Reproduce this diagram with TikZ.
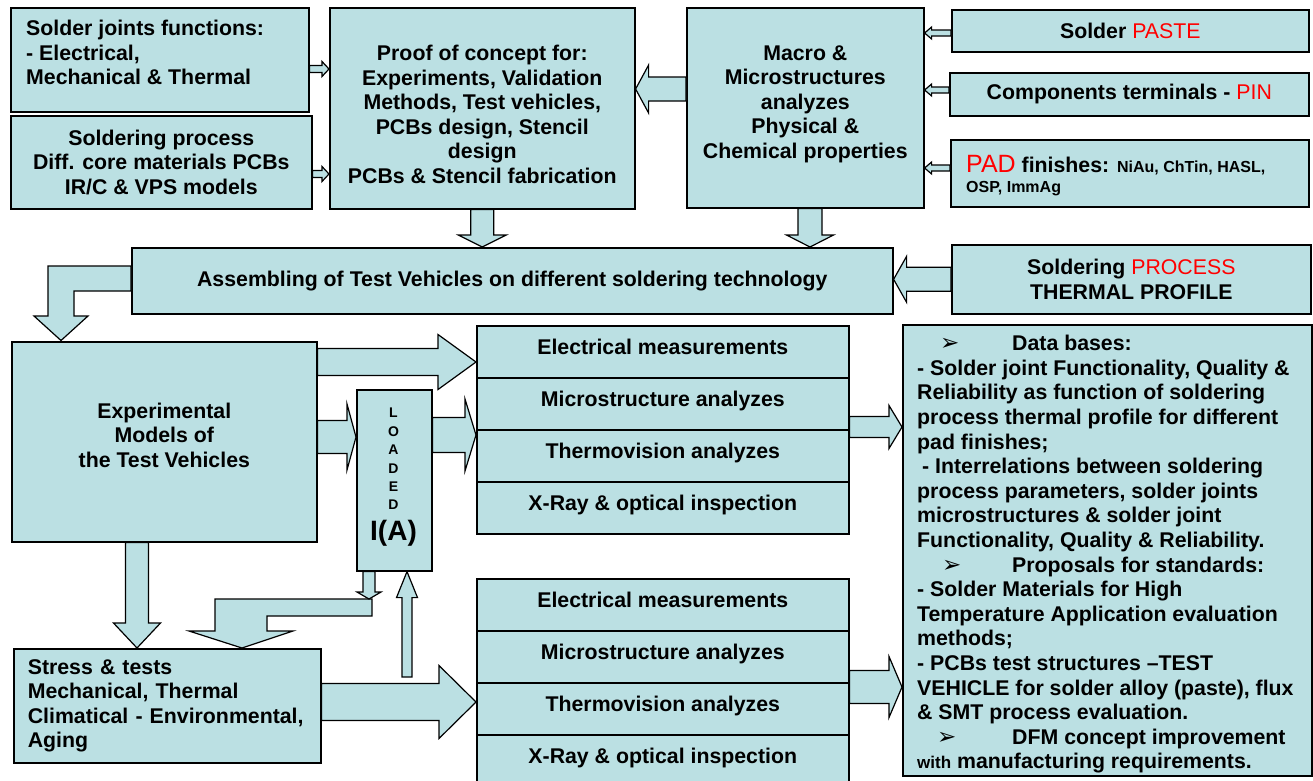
\documentclass[tikz,border=0pt]{standalone}
\usepackage{fontspec}
\setmainfont{Liberation Sans}
\newfontfamily\dingfont{DejaVu Sans}
\usetikzlibrary{calc}

\definecolor{boxblue}{RGB}{187,224,227}
\newcommand\red[1]{{\mdseries\color{red}#1}}
\newcommand\bul{{\dingfont\mdseries\fontsize{23}{23}\selectfont\smash{➢}}}

\tikzset{
  box/.style={draw, line width=1.6pt, fill=boxblue, anchor=north west, inner sep=0pt, align=center},
  big/.style={font=\bfseries\fontsize{21.3}{24.5}\selectfont},
  row/.style={box, big, minimum width=372pt, minimum height=52pt, text height=15pt, text depth=10pt},
  blk/.style={draw, line width=1.2pt, fill=boxblue, line join=miter},
}

% flat block arrow from #1 to #2: half shaft, half head, head length
\newcommand\barrow[5]{%
  \coordinate (bt) at #1;
  \coordinate (bh) at #2;
  \coordinate (bn) at ($(bh)!#5!(bt)$);
  \draw[blk] ($(bt)!#3!90:(bh)$) -- ($(bn)!#3!-90:(bt)$) -- ($(bn)!#4!-90:(bt)$) -- (bh)
    -- ($(bn)!#4!90:(bt)$) -- ($(bn)!#3!90:(bt)$) -- ($(bt)!#3!-90:(bh)$) -- cycle;
}

\begin{document}
\begin{tikzpicture}[x=1pt,y=-1pt]
\useasboundingbox (0,0) rectangle (1313,780);

% top row
\node[box, minimum width=298pt, minimum height=104pt] (sj) at (10,7) {};
\node[big, align=left, anchor=north west, inner sep=0pt] (sjt) at ($(sj.north west)+(16,13)$)
  {Solder joints functions:\\- Electrical,\\Mechanical \& Thermal};
\node[box, big, minimum width=301pt, minimum height=93pt] (sp) at (10,115)
  {Soldering process\\Diff. core materials PCBs\\IR/C \& VPS models};

\node[box, minimum width=305pt, minimum height=201pt] (pc) at (329,7) {};
\node[big, align=center] (pct) at ($(pc.center)+(0,6)$)
  {Proof of concept for:\\Experiments, Validation\\Methods, Test vehicles,\\PCBs design, Stencil\\design\\PCBs \& Stencil fabrication};

\node[box, minimum width=237pt, minimum height=200pt] (mac) at (686,7) {};
\node[big, align=center] (mact) at ($(mac.center)+(0,-3.5)$)
  {Macro \&\\Microstructures\\analyzes\\Physical \&\\Chemical properties};

\node[box, big, minimum width=357pt, minimum height=42pt] (paste) at (951,9) {Solder \red{PASTE}};
\node[box, big, minimum width=359pt, minimum height=43pt] (pin) at (949,72) {Components terminals - \red{PIN}};
\node[box, minimum width=358pt, minimum height=67pt] (pad) at (950,139) {};
\node[anchor=base west, inner sep=0pt, font=\bfseries\fontsize{21.3}{24}\selectfont] (padt) at (966,172)
  {{\fontsize{25}{26}\selectfont\red{PAD}} finishes: {\fontsize{16}{18}\selectfont NiAu, ChTin, HASL,}};
\node[anchor=base west, inner sep=0pt, font=\bfseries\fontsize{16}{18}\selectfont] (padu) at (966,192)
  {OSP, ImmAg};

% assembling row
\node[box, big, minimum width=761pt, minimum height=66pt] (asm) at (131,247)
  {Assembling of Test Vehicles on different soldering technology};
\node[box, big, minimum width=359pt, minimum height=69pt] (proc) at (951,244)
  {Soldering \red{PROCESS}\\THERMAL PROFILE};

% experiments
\node[box, minimum width=305pt, minimum height=200pt] (exp) at (11,341) {};
\node[big, align=center] (expt) at ($(exp.center)+(0,-6.7)$)
  {Experimental\\Models of\\the Test Vehicles};

\node[box, minimum width=75pt, minimum height=181pt] (ld) at (356,389) {};
\node[font=\bfseries\fontsize{14}{18.4}\selectfont, align=center, anchor=north, inner sep=0pt] (ldt)
  at (393.5,408) {L\\O\\A\\D\\E\\D};
\node[font=\bfseries\fontsize{28}{30}\selectfont, anchor=base, inner sep=0pt] (lda) at (393.5,540) {I(A)};

\foreach \t [count=\i] in {Electrical measurements, Microstructure analyzes, Thermovision analyzes, X-Ray \& optical inspection} {
  \node[row] (ta\i) at (476,{325+52*(\i-1)}) {\t};
  \node[row] (tb\i) at (476,{578+52*(\i-1)}) {\t};
}

\node[box, big, minimum width=307pt, minimum height=114pt, text width=279pt, align=left] (st) at (13,648)
  {Stress \& tests\\Mechanical, Thermal\\Climatical - Environmental,\\Aging};

% results
\node[box, minimum width=409pt, minimum height=451pt] (db) at (902,324) {};
\node[align=left, anchor=north west, inner sep=0pt, font=\bfseries\fontsize{21.3}{24.6}\selectfont] (dbt) at (917,335) {%
\hspace*{23pt}\makebox[72pt][l]{\bul}Data bases:\\
- Solder joint Functionality, Quality \&\\
Reliability as function of soldering\\
process thermal profile for different\\
pad finishes;\\
\hspace*{5pt}- Interrelations between soldering\\
process parameters, solder joints\\
microstructures \& solder joint\\
Functionality, Quality \& Reliability.\\
\hspace*{25pt}\makebox[70pt][l]{\bul}Proposals for standards:\\
- Solder Materials for High\\
Temperature Application evaluation\\
methods;\\
- PCBs test structures –TEST\\
VEHICLE for solder alloy (paste), flux\\
\& SMT process evaluation.\\
\hspace*{20pt}\makebox[75pt][l]{\bul}DFM concept improvement\\
{\fontsize{17}{24.6}\selectfont with} manufacturing requirements.};

% arrows, top part
\barrow{(sj.east |- 0,69)}{(pc.west |- 0,69)}{3.5pt}{7.5pt}{7pt}
\barrow{(sp.east |- 0,174)}{(pc.west |- 0,174)}{3.5pt}{7.5pt}{7pt}
\barrow{(mac.west |- 0,89)}{(pc.east |- 0,89)}{12pt}{24pt}{13pt}
\barrow{(paste.west |- 0,33)}{(mac.east |- 0,33)}{3pt}{6pt}{7pt}
\barrow{(pin.west |- 0,90)}{(mac.east |- 0,90)}{3pt}{6pt}{7pt}
\barrow{(pad.west |- 0,168)}{(mac.east |- 0,168)}{3pt}{6pt}{7pt}
\barrow{(pc.south)}{(asm.north -| pc.south)}{11.5pt}{24pt}{12pt}
\barrow{(mac.south -| 810,0)}{(asm.north -| 810,0)}{12pt}{23.5pt}{12pt}
\barrow{(proc.west)}{(asm.east |- proc.west)}{12pt}{23pt}{13pt}

% bend from the assembly bar down to the models
\draw[blk] (asm.west |- 0,266) -- (48,266) -- (48,316) -- (34,316) -- (61,340.5)
  -- (88,316) -- (74,316) -- (74,291) -- (asm.west |- 0,291) -- cycle;

% arrows, middle part
\barrow{(exp.east |- 0,362)}{(ta1.west |- 0,362)}{13.5pt}{27.5pt}{38pt}
\barrow{(exp.east |- 0,437)}{(ld.west |- 0,437)}{16.5pt}{33pt}{9pt}
\barrow{(ld.east |- 0,435)}{(ta2.west |- 0,435)}{17.5pt}{36pt}{11pt}
\barrow{(ta2.east |- 0,427)}{(db.west |- 0,427)}{10.5pt}{21.5pt}{13pt}
\barrow{(exp.south -| 137,0)}{(st.north -| 137,0)}{11.5pt}{23.5pt}{25pt}

% bend from the loaded current down to the stress tests
\coordinate (elb) at (369,599);
\draw[blk] (372,599) -- (215,599) -- (215,631) -- (189,631) -- (st.north -| 242,0)
  -- (293,631) -- (267,631) -- (267,616) -- (372,616) -- cycle;
\barrow{(ld.south -| 369,0)}{(elb)}{6pt}{12pt}{7pt}

% arrows, bottom part
\coordinate (up) at (407,677);
\barrow{(up)}{(ld.south -| up)}{5pt}{10.5pt}{26pt}
\barrow{(st.east |- 0,702)}{(tb3.west |- 0,702)}{18.5pt}{36.5pt}{37pt}
\barrow{(tb2.east |- 0,687)}{(db.west |- 0,687)}{16.5pt}{30.5pt}{13pt}
\end{tikzpicture}
\end{document}
